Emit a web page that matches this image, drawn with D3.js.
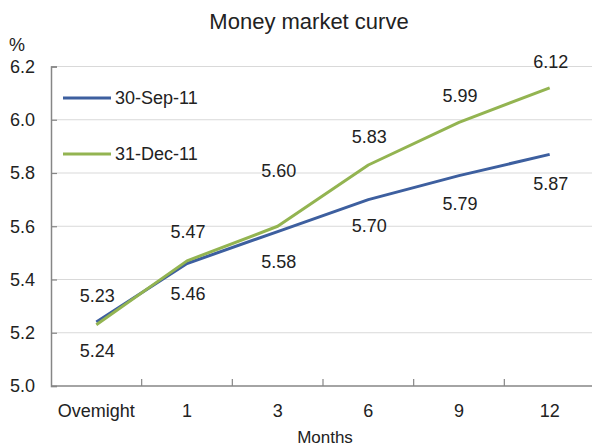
<!DOCTYPE html>
<html>
<head>
<meta charset="utf-8">
<script src="https://cdn.jsdelivr.net/npm/d3@7"></script>
<style>
  html, body { margin: 0; padding: 0; background: #fff; }
  svg { display: block; font-family: Arial, "Liberation Sans", sans-serif; }
</style>
</head>
<body>
<svg id="chart" width="592" height="447"></svg>
<script>
// Tenors along the curve
const categories = ["Ovemight", "1", "3", "6", "9", "12"];
// Yields (%) for each date
const sep11 = [5.24, 5.46, 5.58, 5.70, 5.79, 5.87];
const dec11 = [5.23, 5.47, 5.60, 5.83, 5.99, 6.12];
const seriesNames = ["30-Sep-11", "31-Dec-11"];
const yTicks = [5.0, 5.2, 5.4, 5.6, 5.8, 6.0, 6.2];

// Label placement: vertical nudge (px) of each value label from its point
const sepLabelDy = [28, 30, 30, 26, 28, 29];
const decLabelDy = [-29, -29, -56, -28, -27, -26];

const svg = d3.select("#chart");
const margin = { left: 51, right: -3, top: 66.5, bottom: 61 };
const W = 592, H = 447;
const fs = 18;

const x = d3.scaleBand().domain(categories)
  .range([margin.left, W - margin.right]).paddingInner(0).paddingOuter(0);
const y = d3.scaleLinear().domain([5.0, 6.2]).range([H - margin.bottom, margin.top]);

const textColor = "#222";
const gridColor = "#d9d9d9";
const axisColor = "#868686";

// Horizontal gridlines
svg.append("g").selectAll("line").data(yTicks.filter(d => d > 5.0)).join("line")
  .attr("x1", margin.left).attr("x2", W)
  .attr("y1", d => y(d)).attr("y2", d => y(d))
  .attr("stroke", gridColor).attr("stroke-width", 1.2);

// Y axis
const yAxis = d3.axisRight(y).tickValues(yTicks).tickSize(6).tickFormat("");
const gy = svg.append("g").attr("transform", `translate(${margin.left},0)`).call(yAxis);
gy.select(".domain").attr("stroke", axisColor).attr("stroke-width", 1.5);
gy.selectAll(".tick line").attr("stroke", axisColor).attr("stroke-width", 1.2);

svg.append("g").selectAll("text").data(yTicks).join("text")
  .attr("x", 35).attr("y", d => y(d)).attr("dy", "0.36em")
  .attr("text-anchor", "end").attr("font-size", fs).attr("fill", textColor)
  .text(d => d3.format(".1f")(d));

// X axis with ticks between categories
const xBottom = y(5.0);
svg.append("line").attr("x1", margin.left).attr("x2", W)
  .attr("y1", xBottom).attr("y2", xBottom)
  .attr("stroke", axisColor).attr("stroke-width", 1.5);
const boundaries = categories.slice(1).map(c => x(c));
svg.append("g").selectAll("line").data(boundaries).join("line")
  .attr("x1", d => d).attr("x2", d => d)
  .attr("y1", xBottom).attr("y2", xBottom - 7)
  .attr("stroke", axisColor).attr("stroke-width", 1.2);

svg.append("g").selectAll("text").data(categories).join("text")
  .attr("x", d => x(d) + x.bandwidth() / 2).attr("y", 417)
  .attr("text-anchor", "middle").attr("font-size", fs).attr("fill", textColor)
  .text(d => d);

svg.append("text").attr("x", 325).attr("y", 443)
  .attr("text-anchor", "middle").attr("font-size", 17).attr("fill", textColor)
  .text("Months");

// Title and unit
svg.append("text").attr("x", 309).attr("y", 29)
  .attr("text-anchor", "middle").attr("font-size", 22).attr("fill", textColor)
  .text("Money market curve");
svg.append("text").attr("x", 9).attr("y", 51)
  .attr("font-size", fs).attr("fill", textColor).text("%");

// Series lines
const series = [
  { name: seriesNames[0], values: sep11, color: "#3d5f9f", dy: sepLabelDy },
  { name: seriesNames[1], values: dec11, color: "#93b451", dy: decLabelDy }
];
const line = d3.line()
  .x((d, i) => x(categories[i]) + x.bandwidth() / 2)
  .y(d => y(d));

series.forEach(s => {
  svg.append("path").datum(s.values)
    .attr("fill", "none").attr("stroke", s.color).attr("stroke-width", 3)
    .attr("stroke-linejoin", "round")
    .attr("d", line);
});

// Value labels
series.forEach(s => {
  svg.append("g").selectAll("text").data(s.values).join("text")
    .attr("x", (d, i) => x(categories[i]) + x.bandwidth() / 2 + 1)
    .attr("y", (d, i) => y(d) + s.dy[i])
    .attr("dy", "0.36em")
    .attr("text-anchor", "middle").attr("font-size", fs).attr("fill", textColor)
    .text(d => d3.format(".2f")(d));
});

// Legend
const legend = svg.append("g");
series.forEach((s, i) => {
  const ly = 98 + i * 56;
  legend.append("line").attr("x1", 63).attr("x2", 111).attr("y1", ly).attr("y2", ly)
    .attr("stroke", s.color).attr("stroke-width", 3);
  legend.append("text").attr("x", 115).attr("y", ly).attr("dy", "0.36em")
    .attr("font-size", fs).attr("fill", textColor).text(s.name);
});
</script>
</body>
</html>
